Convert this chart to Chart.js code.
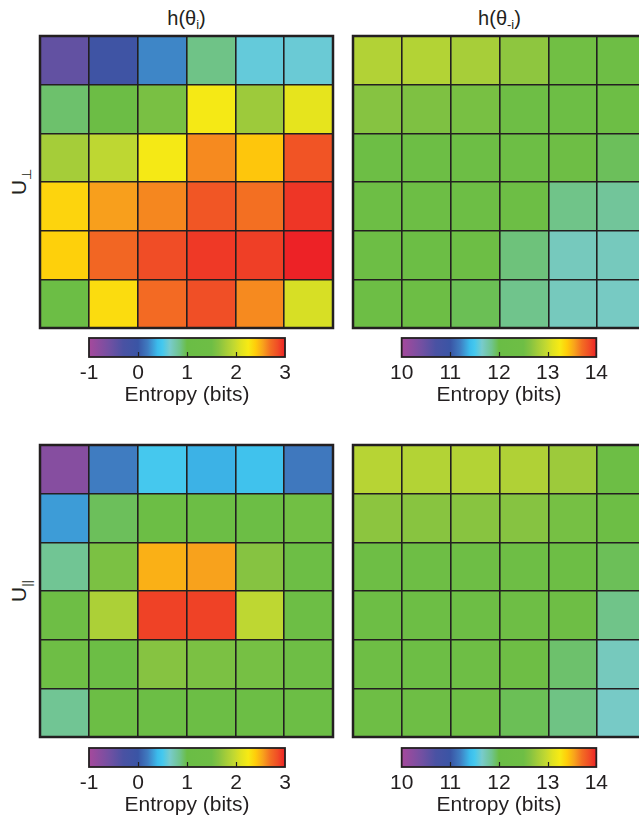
<!DOCTYPE html>
<html>
<head>
<meta charset="utf-8">
<script src="https://cdn.jsdelivr.net/npm/chart.js@4.4.1/dist/chart.umd.min.js"></script>
<style>
  body { margin:0; width:639px; height:819px; overflow:hidden; position:relative; background:#fff;
         font-family:"Liberation Sans", Arial, sans-serif; color:#231f20; }
  .box { position:absolute; }
  .title { position:absolute; width:293px; text-align:center; font-size:20px; line-height:22px; }
  .title sub { font-size:13px; vertical-align:-4px; line-height:0; }
  .ylab { position:absolute; width:60px; height:24px; line-height:24px; text-align:center; font-size:21px;
          transform:rotate(-90deg); }
  .ylab sub { font-size:13px; vertical-align:-5px; line-height:0; }
</style>
</head>
<body>
<div class="title" style="left:40px; top:7px;">h(θ<sub>i</sub>)</div>
<div class="title" style="left:353px; top:7px;">h(θ<sub>-i</sub>)</div>
<div class="ylab" style="left:-11px; top:170px;">U<sub>⊥</sub></div>
<div class="ylab" style="left:-11px; top:579px;">U<sub>||</sub></div>

<div class="box" style="left:38px; top:34px;"><canvas id="hmTL" width="297" height="296"></canvas></div>
<div class="box" style="left:351px; top:34px;"><canvas id="hmTR" width="297" height="296"></canvas></div>
<div class="box" style="left:38px; top:443px;"><canvas id="hmBL" width="297" height="296"></canvas></div>
<div class="box" style="left:351px; top:443px;"><canvas id="hmBR" width="297" height="296"></canvas></div>

<div class="box" style="left:74px; top:336px;"><canvas id="cbTL" width="226" height="75"></canvas></div>
<div class="box" style="left:386px; top:336px;"><canvas id="cbTR" width="226" height="75"></canvas></div>
<div class="box" style="left:74px; top:746px;"><canvas id="cbBL" width="226" height="75"></canvas></div>
<div class="box" style="left:386px; top:746px;"><canvas id="cbBR" width="226" height="75"></canvas></div>

<script>
Chart.defaults.font.family = '"Liberation Sans", Arial, sans-serif';
Chart.defaults.color = '#231f20';

// data
const columns = ['1', '2', '3', '4', '5', '6'];
const localTicks = [-1, 0, 1, 2, 3];
const globalTicks = [10, 11, 12, 13, 14];

// U_perp, h(theta_i)
const perpLocal = [
  [-0.47, -0.1, 0.23, 0.865, 0.59, 0.61],
  [0.92, 1.2, 1.57, 2.24, 1.76, 2.14],
  [1.8, 1.94, 2.24, 2.62, 2.42, 2.82],
  [2.36, 2.56, 2.63, 2.81, 2.7, 2.93],
  [2.38, 2.74, 2.85, 2.92, 2.9, 3.0],
  [1.3, 2.32, 2.72, 2.84, 2.62, 2.06]
];
// U_perp, h(theta_-i)
const perpGlobal = [
  [12.87, 12.88, 12.81, 12.69, 12.52, 12.45],
  [12.65, 12.6, 12.56, 12.45, 12.42, 12.4],
  [12.4, 12.35, 12.35, 12.35, 12.48, 11.955],
  [12.35, 12.35, 12.35, 12.4, 11.86, 11.81],
  [12.35, 12.3, 12.35, 11.89, 11.7, 11.7],
  [12.35, 12.35, 11.967, 11.855, 11.7, 11.68]
];
// U_par, h(theta_i)
const parLocal = [
  [-0.74, 0.2, 0.5, 0.37, 0.45, 0.18],
  [0.3, 0.955, 1.25, 1.25, 1.3, 1.52],
  [0.83, 1.58, 2.5, 2.55, 1.65, 1.4],
  [1.5, 1.84, 2.89, 2.89, 1.94, 1.35],
  [1.5, 1.3, 1.65, 1.58, 1.55, 1.5],
  [0.83, 1.3, 1.3, 1.3, 1.3, 1.3]
];
// U_par, h(theta_-i)
const parGlobal = [
  [12.9, 12.88, 12.88, 12.86, 12.76, 12.4],
  [12.68, 12.66, 12.66, 12.65, 12.55, 12.4],
  [12.45, 12.45, 12.45, 12.45, 12.4, 11.96],
  [12.4, 12.35, 12.4, 12.45, 12.45, 11.86],
  [12.45, 12.4, 12.45, 12.48, 11.92, 11.7],
  [12.45, 12.45, 12.5, 11.965, 11.87, 11.67]
];

// colormap (position 0..1 along the colour bar)
const cmapStops = [0, 0.1, 0.175, 0.25, 0.3, 0.35, 0.375, 0.4125, 0.4625, 0.5, 0.625, 0.6625,
                   0.7, 0.7375, 0.775, 0.8125, 0.85, 0.8875, 0.925, 0.9625, 1];
const cmapColors = ['#a6499c', '#7450a2', '#4a52a3', '#3a55a5', '#3f7cc1', '#3bbcec', '#45c8ee', '#78cbcc',
                    '#70c48e', '#6abd45', '#6ebe45', '#86c341', '#a5cd39', '#c0d832', '#e0e220', '#f7ea14',
                    '#ffcc0a', '#f8a21c', '#f36f22', '#f04d26', '#ed2226'];

const ink = '#231f20';

function hexToRgb(h) {
  const n = parseInt(h.slice(1), 16);
  return [(n >> 16) & 255, (n >> 8) & 255, n & 255];
}

function colorFor(v, min, max) {
  let t = (v - min) / (max - min);
  t = Math.min(1, Math.max(0, t));
  for (let i = 1; i < cmapStops.length; i++) {
    if (t <= cmapStops[i]) {
      const a = hexToRgb(cmapColors[i - 1]), b = hexToRgb(cmapColors[i]);
      const f = (t - cmapStops[i - 1]) / (cmapStops[i] - cmapStops[i - 1]);
      return 'rgb(' + a.map((c, k) => Math.round(c + (b[k] - c) * f)).join(',') + ')';
    }
  }
  return cmapColors[cmapColors.length - 1];
}

const framePlugin = {
  id: 'frame',
  afterDraw(chart) {
    const a = chart.chartArea, ctx = chart.ctx;
    ctx.save();
    ctx.strokeStyle = ink;
    ctx.lineWidth = 2.5;
    ctx.strokeRect(a.left, a.top, a.right - a.left, a.bottom - a.top);
    ctx.restore();
  }
};

function makeHeatmap(id, rows, ticks) {
  const min = ticks[0], max = ticks[ticks.length - 1];
  const gridOpts = { color: ink, lineWidth: 1.6, drawTicks: false, z: 1 };
  return new Chart(document.getElementById(id), {
    type: 'bar',
    data: {
      labels: columns,
      datasets: rows.map((row, r) => ({
        label: 'row ' + (r + 1),
        data: row.map(() => 1),
        backgroundColor: row.map(v => colorFor(v, min, max)),
        borderWidth: 0,
        categoryPercentage: 1,
        barPercentage: 1
      }))
    },
    options: {
      responsive: false,
      animation: false,
      layout: { padding: 2 },
      plugins: { legend: { display: false }, tooltip: { enabled: false } },
      scales: {
        x: {
          stacked: true, offset: true,
          grid: Object.assign({ offset: true }, gridOpts),
          border: { display: false },
          ticks: { display: false },
          afterFit: s => { s.height = 0; }
        },
        y: {
          stacked: true, reverse: true, min: 0, max: 6,
          grid: gridOpts,
          border: { display: false },
          ticks: { display: false, stepSize: 1 },
          afterFit: s => { s.width = 0; }
        }
      }
    },
    plugins: [framePlugin]
  });
}

const gradientPlugin = {
  id: 'gradient',
  beforeDatasetsDraw(chart) {
    const a = chart.chartArea, ctx = chart.ctx, xs = chart.scales.x;
    const g = ctx.createLinearGradient(a.left, 0, a.right, 0);
    cmapStops.forEach((s, i) => g.addColorStop(s, cmapColors[i]));
    ctx.save();
    ctx.fillStyle = g;
    ctx.fillRect(a.left, a.top, a.right - a.left, a.bottom - a.top);
    ctx.strokeStyle = ink;
    ctx.lineWidth = 1.2;
    xs.ticks.slice(1, -1).forEach(t => {
      const px = Math.round(xs.getPixelForValue(t.value)) + 0.5;
      ctx.beginPath();
      ctx.moveTo(px, a.bottom);
      ctx.lineTo(px, a.bottom - 5);
      ctx.stroke();
    });
    ctx.lineWidth = 1.8;
    ctx.strokeRect(a.left, a.top, a.right - a.left, a.bottom - a.top);
    ctx.restore();
  }
};

function makeColorbar(id, ticks) {
  return new Chart(document.getElementById(id), {
    type: 'scatter',
    data: { datasets: [{ data: [] }] },
    options: {
      responsive: false,
      animation: false,
      layout: { padding: { left: 15, right: 15, top: 2, bottom: 2 } },
      plugins: { legend: { display: false }, tooltip: { enabled: false } },
      scales: {
        x: {
          type: 'linear', min: ticks[0], max: ticks[ticks.length - 1],
          afterBuildTicks: s => { s.ticks = ticks.map(v => ({ value: v })); },
          afterFit: s => { s.height = 52; },
          grid: { display: false, drawTicks: false },
          border: { display: false },
          ticks: { font: { size: 21 }, color: ink, padding: 4, maxRotation: 0 },
          title: { display: true, text: 'Entropy (bits)', font: { size: 21 }, color: ink, padding: { top: 0, bottom: 1 } }
        },
        y: { display: false, min: 0, max: 1 }
      }
    },
    plugins: [gradientPlugin]
  });
}

makeHeatmap('hmTL', perpLocal, localTicks);
makeHeatmap('hmTR', perpGlobal, globalTicks);
makeHeatmap('hmBL', parLocal, localTicks);
makeHeatmap('hmBR', parGlobal, globalTicks);

makeColorbar('cbTL', localTicks);
makeColorbar('cbTR', globalTicks);
makeColorbar('cbBL', localTicks);
makeColorbar('cbBR', globalTicks);
</script>
</body>
</html>
